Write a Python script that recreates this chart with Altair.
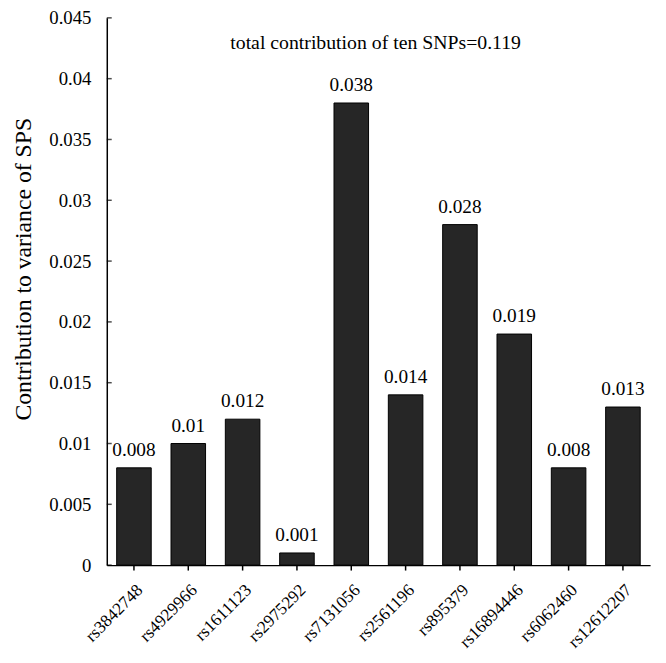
import altair as alt
import pandas as pd

snps = ["rs3842748", "rs4929966", "rs1611123", "rs2975292", "rs7131056",
        "rs2561196", "rs895379", "rs16894446", "rs6062460", "rs12612207"]
contrib = [0.008, 0.01, 0.012, 0.001, 0.038, 0.014, 0.028, 0.019, 0.008, 0.013]
y_ticks = [0, 0.005, 0.01, 0.015, 0.02, 0.025, 0.03, 0.035, 0.04, 0.045]
annotation = "total contribution of ten SNPs=0.119"

df = pd.DataFrame({"snp": snps, "value": contrib})
tick_df = pd.DataFrame({"value": y_ticks})

FONT = "Liberation Serif"

xscale = alt.Scale(paddingInner=0.364, paddingOuter=0.182)
yscale = alt.Scale(domain=[0, 0.045], nice=False)

xaxis = alt.Axis(title=None, labelAngle=-45, labelFont=FONT, labelFontSize=17.5,
                 labelColor="black", domainColor="black", tickColor="black",
                 domainWidth=1.5, tickWidth=1.5, tickSize=5, labelPadding=11)
yaxis = alt.Axis(values=y_ticks, format="~g", grid=False, tickSize=0,
                 labelFont=FONT, labelFontSize=19, labelColor="black",
                 labelPadding=16, domainColor="black", domainWidth=1.5,
                 title="Contribution to variance of SPS", titleFont=FONT,
                 titleFontSize=24, titleFontWeight="normal", titleColor="black",
                 titleX=-72, titleY=254)

bars = alt.Chart(df).mark_bar(color="#262626", stroke="black", strokeWidth=1).encode(
    x=alt.X("snp:N", sort=None, scale=xscale, axis=xaxis),
    y=alt.Y("value:Q", scale=yscale, axis=yaxis),
)

inner_ticks = alt.Chart(tick_df).mark_tick(color="black", thickness=1.5, size=5).encode(
    y=alt.Y("value:Q", scale=yscale, axis=yaxis),
    x=alt.value(2.5),
)

labels = alt.Chart(df).mark_text(font=FONT, fontSize=19.5, baseline="bottom", dy=-8,
                                 color="black").encode(
    x=alt.X("snp:N", sort=None, scale=xscale, axis=xaxis),
    y=alt.Y("value:Q", scale=yscale, axis=yaxis),
    text=alt.Text("value:Q", format="~g"),
)

note = alt.Chart(pd.DataFrame({"t": [annotation]})).mark_text(
    font=FONT, fontSize=20, align="left", baseline="alphabetic", color="black"
).encode(x=alt.value(125), y=alt.value(32), text="t:N")

chart = alt.layer(bars, inner_ticks, labels, note).properties(
    width=550, height=554,
    autosize=alt.AutoSizeParams(type="none"),
    padding={"left": 100, "top": 6, "right": 8, "bottom": 87},
    background="white",
).configure(font=FONT).configure_view(strokeWidth=0).configure_axis(
    labelFont=FONT, titleFont=FONT
)

chart.save("out.html", embed_options={"renderer": "svg", "actions": False})
